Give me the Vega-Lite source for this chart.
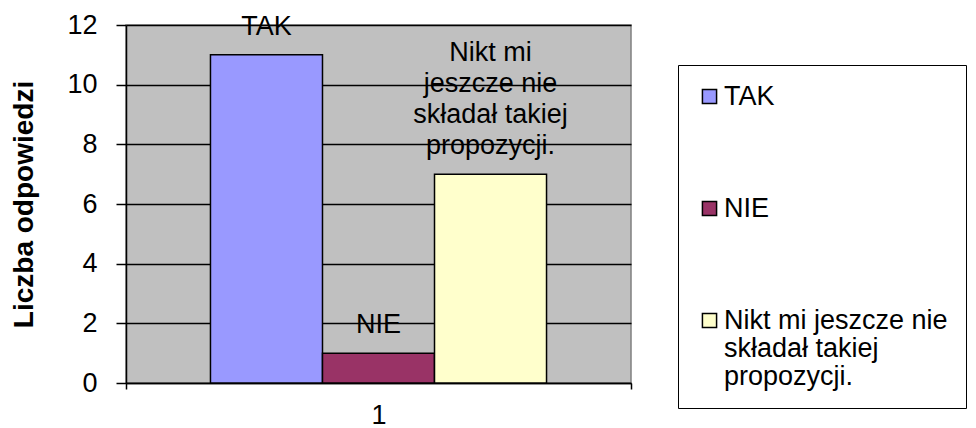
{
  "$schema": "https://vega.github.io/schema/vega-lite/v6.json",
  "width": 505,
  "height": 358,
  "autosize": {"type": "none"},
  "padding": {"left": 126, "top": 25, "right": 345, "bottom": 45},
  "background": "white",
  "view": {"fill": "#C0C0C0", "stroke": "#808080", "strokeWidth": 1.5},
  "config": {"font": "Liberation Sans", "style": {"guide-label": {"lineHeight": 28}}},
  "data": {
    "values": [
      {"grp": "1", "cat": "TAK", "value": 11, "label": "TAK"},
      {"grp": "1", "cat": "NIE", "value": 1, "label": "NIE"},
      {"grp": "1", "cat": "Nikt mi jeszcze nie składał takiej propozycji.", "value": 7, "label": "Nikt mi|jeszcze nie|składał takiej|propozycji."}
    ]
  },
  "encoding": {
    "x": {
      "field": "grp", "type": "nominal",
      "scale": {"paddingInner": 0, "paddingOuter": 0},
      "axis": {
        "title": null, "labelAngle": 0, "labelFontSize": 27, "labelColor": "black",
        "labelPadding": 13, "tickBand": "extent", "tickSize": 6, "tickColor": "black",
        "tickWidth": 1.5, "domainColor": "black", "domainWidth": 1.5, "grid": false
      }
    },
    "xOffset": {
      "field": "cat", "type": "nominal",
      "sort": ["TAK", "NIE", "Nikt mi jeszcze nie składał takiej propozycji."],
      "scale": {"paddingInner": 0, "paddingOuter": 0.754}
    },
    "y": {
      "field": "value", "type": "quantitative",
      "scale": {"domain": [0, 12], "nice": false},
      "axis": {
        "title": "Liczba odpowiedzi", "titleFontSize": 28, "titleFontWeight": "bold",
        "titleColor": "black", "titlePadding": 28,
        "values": [0, 2, 4, 6, 8, 10, 12], "labelFontSize": 27, "labelColor": "black",
        "labelPadding": 19, "tickSize": 10, "tickColor": "black", "tickWidth": 1.5,
        "domainColor": "black", "domainWidth": 1.5,
        "grid": true, "gridColor": "black", "gridOpacity": 1, "gridWidth": 1.5
      }
    }
  },
  "layer": [
    {
      "mark": {"type": "bar", "stroke": "black", "strokeWidth": 1.5},
      "encoding": {
        "color": {
          "field": "cat", "type": "nominal",
          "sort": ["TAK", "NIE", "Nikt mi jeszcze nie składał takiej propozycji."],
          "scale": {
            "domain": ["TAK", "NIE", "Nikt mi jeszcze nie składał takiej propozycji."],
            "range": ["#9999FF", "#993366", "#FFFFCC"]
          },
          "legend": {
            "title": null, "orient": "none", "legendX": 552, "legendY": 40,
            "fillColor": "white", "strokeColor": "black", "padding": 18,
            "symbolType": "square", "symbolSize": 200, "symbolStrokeColor": "black",
            "symbolStrokeWidth": 1.5, "symbolOpacity": 1,
            "labelFontSize": 27, "labelColor": "black", "labelOffset": 1,
            "labelLimit": 400, "labelBaseline": "middle", "rowPadding": 84,
            "labelExpr": "split(datum.label == 'Nikt mi jeszcze nie składał takiej propozycji.' ? 'Nikt mi jeszcze nie|składał takiej|propozycji.' : datum.label, '|')"
          }
        }
      }
    },
    {
      "transform": [{"filter": "datum.value < 10 && datum.value > 5"}],
      "mark": {"type": "text", "baseline": "bottom", "dy": -107, "lineBreak": "|", "fontSize": 27, "lineHeight": 31, "color": "black"},
      "encoding": {"text": {"field": "label", "type": "nominal"}}
    },
    {
      "transform": [{"filter": "datum.value >= 10 || datum.value <= 5"}],
      "mark": {"type": "text", "baseline": "bottom", "dy": -14, "fontSize": 27, "color": "black"},
      "encoding": {"text": {"field": "label", "type": "nominal"}}
    }
  ]
}
